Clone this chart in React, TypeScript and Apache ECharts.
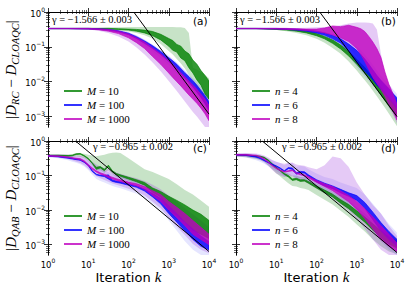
import React, { useEffect, useRef } from 'react';
import * as echarts from 'echarts';

// ---------- data (log10 values) ----------
const XT = [0, 0.5, 1, 1.25, 1.5, 1.75, 2, 2.2, 2.4, 2.6, 2.8, 3, 3.1, 3.2, 3.3, 3.4, 3.5, 3.6, 3.7, 3.8, 3.9, 4];
const XB = [0, 0.25, 0.5, 0.6, 0.7, 0.8, 0.9, 1.0, 1.1, 1.2, 1.3, 1.4, 1.5, 1.6, 1.7, 1.8, 2.0, 2.2, 2.4, 2.6, 2.8, 3.0, 3.2, 3.4, 3.6, 3.8, 4.0];

const X_MAJOR = [0, 1, 2, 3, 4];
const Y_MAJOR = [-3, -2, -1, 0];

const NAMES_TOP_LEFT = ['M=10', 'M=100', 'M=1000'];
const NAMES_TOP_RIGHT = ['n=4', 'n=6', 'n=8'];

const GAMMA_TOP = 'γ = −1.566 ± 0.003';
const GAMMA_BOTTOM = 'γ = −0.965 ± 0.002';
const PANEL_LABELS = ['(a)', '(b)', '(c)', '(d)'];

// panel (a)
const aGreenLo = [-0.48, -0.48, -0.48, -0.49, -0.49, -0.5, -0.52, -0.55, -0.6, -0.68, -0.8, -0.98, -1.1, -1.15, -1.32, -1.4, -1.6, -1.75, -1.95, -2.1, -2.35, -2.5];
const aGreenHi = [-0.47, -0.47, -0.47, -0.47, -0.47, -0.48, -0.49, -0.5, -0.52, -0.56, -0.64, -0.76, -0.82, -0.93, -0.98, -1.12, -1.2, -1.38, -1.5, -1.68, -1.82, -1.98];
const aGreenLightLo = [-0.49, -0.49, -0.5, -0.5, -0.51, -0.53, -0.56, -0.6, -0.67, -0.77, -0.92, -1.12, -1.22, -1.35, -1.48, -1.62, -1.8, -1.98, -2.2, -2.4, -2.65, -2.9];
const aGreenLightHi = [-0.46, -0.46, -0.45, -0.45, -0.44, -0.44, -0.43, -0.43, -0.43, -0.43, -0.43, -0.43, -0.43, -0.44, -0.44, -0.46, -0.6, -1.6, -1.65, -1.72, -1.8, -1.9];
const aBlueLo = [-0.48, -0.48, -0.49, -0.5, -0.52, -0.57, -0.65, -0.76, -0.9, -1.05, -1.22, -1.42, -1.53, -1.65, -1.77, -1.9, -2.02, -2.15, -2.3, -2.45, -2.63, -2.82];
const aBlueHi = [-0.47, -0.47, -0.47, -0.48, -0.5, -0.54, -0.61, -0.71, -0.83, -0.97, -1.13, -1.31, -1.4, -1.5, -1.62, -1.74, -1.85, -1.97, -2.1, -2.25, -2.4, -2.58];
const aBlueLightLo = [-0.49, -0.49, -0.5, -0.52, -0.55, -0.6, -0.7, -0.82, -0.97, -1.13, -1.32, -1.52, -1.64, -1.77, -1.9, -2.03, -2.16, -2.3, -2.44, -2.6, -2.77, -2.97];
const aBlueLightHi = [-0.46, -0.46, -0.46, -0.47, -0.48, -0.52, -0.58, -0.67, -0.79, -0.93, -1.08, -1.25, -1.34, -1.44, -1.55, -1.67, -1.78, -1.9, -2.01, -2.13, -2.27, -2.42];
const aMagLo = [-0.48, -0.48, -0.49, -0.51, -0.55, -0.62, -0.74, -0.88, -1.05, -1.28, -1.5, -1.75, -1.88, -2.0, -2.12, -2.25, -2.38, -2.5, -2.62, -2.76, -2.92, -3.12];
const aMagHi = [-0.47, -0.47, -0.47, -0.48, -0.5, -0.55, -0.63, -0.74, -0.86, -1.03, -1.2, -1.4, -1.5, -1.62, -1.74, -1.86, -1.98, -2.1, -2.22, -2.36, -2.5, -2.68];
const aMagLightLo = [-0.49, -0.49, -0.5, -0.54, -0.6, -0.7, -0.85, -1.02, -1.22, -1.45, -1.7, -1.98, -2.12, -2.27, -2.42, -2.57, -2.72, -2.87, -3.0, -3.15, -3.3, -3.3];
const aMagLightHi = [-0.46, -0.46, -0.46, -0.47, -0.48, -0.52, -0.58, -0.68, -0.8, -0.95, -1.12, -1.3, -1.4, -1.5, -1.62, -1.74, -1.86, -1.98, -2.1, -2.22, -2.36, -2.5];
const aFitX = [2.13, 4];
const aFitY = [0, -2.93];

// panel (b)
const bGreenLo = [-0.48, -0.48, -0.5, -0.52, -0.55, -0.6, -0.68, -0.77, -0.9, -1.06, -1.26, -1.5, -1.63, -1.76, -1.9, -2.06, -2.22, -2.38, -2.54, -2.7, -2.86, -3.02];
const bGreenHi = [-0.47, -0.47, -0.48, -0.49, -0.51, -0.55, -0.62, -0.7, -0.8, -0.95, -1.13, -1.36, -1.48, -1.6, -1.74, -1.88, -2.03, -2.18, -2.33, -2.48, -2.62, -2.78];
const bGreenLightLo = [-0.49, -0.49, -0.52, -0.55, -0.6, -0.67, -0.77, -0.88, -1.03, -1.2, -1.42, -1.68, -1.82, -1.96, -2.1, -2.26, -2.42, -2.58, -2.75, -2.92, -3.1, -3.28];
const bGreenLightHi = [-0.46, -0.46, -0.47, -0.48, -0.5, -0.54, -0.6, -0.68, -0.78, -0.92, -1.1, -1.32, -1.44, -1.56, -1.7, -1.84, -1.98, -2.13, -2.28, -2.43, -2.57, -2.72];
const bBlueLo = [-0.48, -0.48, -0.49, -0.5, -0.52, -0.55, -0.6, -0.67, -0.77, -0.9, -1.12, -1.45, -1.58, -1.7, -1.82, -1.95, -2.1, -2.22, -2.34, -2.48, -2.62, -2.78];
const bBlueHi = [-0.47, -0.47, -0.47, -0.48, -0.49, -0.51, -0.55, -0.6, -0.67, -0.77, -0.92, -1.1, -1.22, -1.35, -1.5, -1.66, -1.82, -1.96, -2.08, -2.2, -2.34, -2.46];
const bBlueLightLo = [-0.49, -0.49, -0.5, -0.52, -0.55, -0.6, -0.67, -0.76, -0.88, -1.03, -1.25, -1.58, -1.72, -1.85, -1.98, -2.12, -2.26, -2.4, -2.53, -2.67, -2.82, -2.98];
const bBlueLightHi = [-0.46, -0.46, -0.46, -0.47, -0.48, -0.5, -0.53, -0.57, -0.63, -0.72, -0.85, -1.0, -1.1, -1.22, -1.36, -1.52, -1.68, -1.83, -1.96, -2.08, -2.22, -2.35];
const bMagLo = [-0.48, -0.48, -0.49, -0.5, -0.51, -0.53, -0.56, -0.6, -0.66, -0.74, -0.85, -1.05, -1.22, -1.42, -1.65, -1.88, -2.05, -2.22, -2.42, -2.65, -2.85, -3.1];
const bMagHi = [-0.47, -0.47, -0.47, -0.47, -0.48, -0.49, -0.49, -0.46, -0.4, -0.42, -0.38, -0.44, -0.48, -0.56, -0.7, -0.86, -1.05, -1.3, -1.72, -2.08, -2.35, -2.65];
const bMagLightLo = [-0.49, -0.49, -0.5, -0.51, -0.53, -0.56, -0.6, -0.66, -0.74, -0.88, -1.05, -1.3, -1.45, -1.62, -1.8, -2.0, -2.18, -2.35, -2.55, -2.75, -2.95, -3.2];
const bMagLightHi = [-0.46, -0.46, -0.46, -0.46, -0.46, -0.45, -0.44, -0.43, -0.42, -0.38, -0.33, -0.3, -0.3, -0.3, -0.31, -0.33, -0.5, -1.2, -1.75, -2.05, -2.3, -2.55];
const bFitX = [2.08, 4];
const bFitY = [0, -3.0];

// panel (c)
const cGreenLo = [-0.43, -0.43, -0.44, -0.43, -0.39, -0.38, -0.44, -0.52, -0.65, -0.82, -0.78, -0.86, -0.74, -0.9, -0.98, -1.02, -1.1, -1.18, -1.28, -1.48, -1.62, -1.98, -2.15, -2.35, -2.58, -2.7, -2.82];
const cGreenHi = [-0.41, -0.41, -0.42, -0.41, -0.37, -0.36, -0.42, -0.5, -0.63, -0.76, -0.74, -0.82, -0.7, -0.86, -0.94, -0.98, -1.05, -1.12, -1.2, -1.36, -1.46, -1.6, -1.72, -1.85, -2.0, -2.12, -2.3];
const cGreenLightLo = [-0.45, -0.46, -0.47, -0.46, -0.45, -0.46, -0.5, -0.58, -0.7, -0.85, -0.85, -0.92, -0.85, -0.96, -1.04, -1.08, -1.16, -1.25, -1.36, -1.55, -1.72, -2.05, -2.25, -2.45, -2.68, -2.85, -3.0];
const cGreenLightHi = [-0.4, -0.39, -0.39, -0.38, -0.35, -0.36, -0.37, -0.4, -0.42, -0.44, -0.42, -0.4, -0.36, -0.34, -0.33, -0.35, -0.5, -0.66, -0.82, -0.9, -1.0, -1.1, -1.25, -1.42, -1.55, -1.72, -1.9];
const cBlueLo = [-0.44, -0.46, -0.5, -0.52, -0.54, -0.56, -0.62, -0.71, -0.88, -0.98, -1.01, -1.03, -1.1, -1.17, -1.2, -1.22, -1.28, -1.34, -1.45, -1.62, -1.82, -2.1, -2.35, -2.6, -2.85, -3.05, -3.15];
const cBlueHi = [-0.42, -0.44, -0.48, -0.5, -0.52, -0.54, -0.6, -0.69, -0.86, -0.96, -0.99, -1.0, -0.98, -1.13, -1.16, -1.18, -1.24, -1.3, -1.39, -1.52, -1.66, -1.88, -2.1, -2.35, -2.55, -2.75, -2.92];
const cBlueLightLo = [-0.47, -0.5, -0.56, -0.6, -0.63, -0.67, -0.74, -0.84, -0.98, -1.1, -1.16, -1.2, -1.25, -1.3, -1.34, -1.37, -1.45, -1.53, -1.65, -1.82, -2.02, -2.3, -2.6, -2.9, -3.15, -3.3, -3.3];
const cBlueLightHi = [-0.4, -0.4, -0.42, -0.44, -0.46, -0.48, -0.52, -0.58, -0.68, -0.76, -0.82, -0.86, -0.9, -0.96, -1.0, -1.03, -1.1, -1.17, -1.26, -1.38, -1.52, -1.7, -1.9, -2.1, -2.3, -2.5, -2.68];
const cMagLo = [-0.44, -0.45, -0.48, -0.5, -0.52, -0.54, -0.6, -0.72, -0.82, -0.9, -0.96, -1.0, -1.06, -1.1, -1.14, -1.17, -1.24, -1.3, -1.4, -1.58, -1.75, -2.0, -2.22, -2.45, -2.7, -2.85, -3.0];
const cMagHi = [-0.42, -0.43, -0.46, -0.48, -0.5, -0.51, -0.57, -0.68, -0.78, -0.86, -0.92, -0.96, -1.01, -1.05, -1.09, -1.12, -1.19, -1.24, -1.32, -1.44, -1.55, -1.75, -1.92, -2.1, -2.3, -2.5, -2.7];
const cMagLightLo = [-0.46, -0.48, -0.53, -0.56, -0.6, -0.64, -0.7, -0.8, -0.92, -1.02, -1.08, -1.13, -1.18, -1.23, -1.27, -1.3, -1.38, -1.46, -1.58, -1.76, -1.95, -2.22, -2.48, -2.72, -2.98, -3.15, -3.25];
const cMagLightHi = [-0.39, -0.39, -0.4, -0.41, -0.42, -0.43, -0.46, -0.52, -0.6, -0.68, -0.74, -0.78, -0.82, -0.87, -0.91, -0.95, -1.02, -1.08, -1.16, -1.27, -1.4, -1.58, -1.76, -1.95, -2.12, -2.3, -2.5];
const cFitX = [0.683, 4];
const cFitY = [0, -3.2];

// panel (d)
const dGreenLo = [-0.41, -0.42, -0.45, -0.46, -0.49, -0.57, -0.68, -0.78, -0.87, -0.97, -1.04, -1.14, -1.12, -1.17, -1.16, -1.22, -1.36, -1.5, -1.62, -1.8, -1.96, -2.16, -2.35, -2.58, -2.8, -2.98, -3.1];
const dGreenHi = [-0.39, -0.4, -0.43, -0.44, -0.47, -0.55, -0.66, -0.76, -0.85, -0.94, -1.0, -1.1, -1.08, -1.12, -1.12, -1.17, -1.3, -1.42, -1.54, -1.7, -1.84, -2.02, -2.2, -2.4, -2.6, -2.78, -2.9];
const dGreenLightLo = [-0.45, -0.47, -0.52, -0.55, -0.6, -0.7, -0.82, -0.93, -1.03, -1.13, -1.22, -1.3, -1.32, -1.36, -1.38, -1.42, -1.56, -1.7, -1.84, -2.02, -2.2, -2.42, -2.62, -2.85, -3.05, -3.2, -3.28];
const dGreenLightHi = [-0.37, -0.38, -0.41, -0.42, -0.45, -0.52, -0.62, -0.71, -0.8, -0.88, -0.94, -1.0, -1.0, -1.04, -1.05, -1.1, -1.22, -1.34, -1.46, -1.6, -1.74, -1.92, -2.1, -2.3, -2.5, -2.68, -2.82];
const dBlueLo = [-0.41, -0.42, -0.47, -0.51, -0.57, -0.63, -0.69, -0.74, -0.8, -0.88, -0.8, -0.82, -0.96, -0.92, -0.93, -1.02, -1.18, -1.3, -1.38, -1.5, -1.6, -1.72, -1.95, -2.28, -2.6, -2.85, -3.05];
const dBlueHi = [-0.39, -0.4, -0.45, -0.49, -0.55, -0.61, -0.67, -0.72, -0.78, -0.86, -0.77, -0.78, -0.92, -0.88, -0.89, -0.98, -1.12, -1.22, -1.3, -1.4, -1.5, -1.58, -1.78, -2.06, -2.36, -2.62, -2.85];
const dBlueLightLo = [-0.45, -0.48, -0.56, -0.6, -0.66, -0.73, -0.8, -0.87, -0.94, -1.02, -0.98, -1.0, -1.1, -1.08, -1.1, -1.18, -1.34, -1.48, -1.58, -1.72, -1.85, -2.0, -2.25, -2.6, -2.9, -3.15, -3.3];
const dBlueLightHi = [-0.36, -0.36, -0.38, -0.41, -0.46, -0.51, -0.56, -0.6, -0.64, -0.7, -0.64, -0.64, -0.75, -0.72, -0.74, -0.82, -0.94, -1.04, -1.1, -1.2, -1.28, -1.36, -1.55, -1.82, -2.1, -2.4, -2.65];
const dMagLo = [-0.41, -0.41, -0.43, -0.47, -0.53, -0.62, -0.72, -0.8, -0.86, -0.9, -0.88, -0.86, -0.94, -0.98, -1.01, -1.07, -1.2, -1.32, -1.44, -1.6, -1.76, -1.98, -2.25, -2.55, -2.85, -3.05, -3.2];
const dMagHi = [-0.39, -0.39, -0.41, -0.45, -0.51, -0.6, -0.7, -0.78, -0.84, -0.88, -0.86, -0.84, -0.92, -0.95, -0.98, -1.03, -1.14, -1.24, -1.32, -1.45, -1.58, -1.75, -1.96, -2.2, -2.45, -2.7, -2.95];
const dMagLightLo = [-0.45, -0.46, -0.5, -0.55, -0.62, -0.72, -0.84, -0.94, -1.0, -1.04, -1.04, -1.02, -1.1, -1.14, -1.17, -1.24, -1.38, -1.52, -1.66, -1.84, -2.02, -2.25, -2.55, -2.85, -3.15, -3.3, -3.3];
const dMagLightHi = [-0.36, -0.35, -0.36, -0.38, -0.42, -0.48, -0.55, -0.6, -0.64, -0.66, -0.64, -0.62, -0.68, -0.7, -0.72, -0.76, -0.82, -0.7, -0.45, -0.5, -0.75, -1.2, -1.55, -1.85, -2.1, -2.45, -2.75];
const dFitX = [0.652, 4];
const dFitY = [0, -3.23];

// ---------- styling ----------
const GREEN = '#008000';
const BLUE = '#0000ff';
const MAG = '#bf00bf';
const COLORS = [GREEN, BLUE, MAG];
const LIGHT_COLORS = [GREEN, BLUE, '#a040e0'];
const LIGHT_OPACITY = [0.22, 0.1, 0.28];
const DARK_OPACITY = 0.8;

const GRIDS = [
  { left: 48, top: 12, width: 161, height: 115 },
  { left: 236, top: 12, width: 161, height: 115 },
  { left: 48, top: 141, width: 161, height: 114 },
  { left: 236, top: 141, width: 161, height: 114 },
];

const PANELS = [
  { x: XT, names: NAMES_TOP_LEFT, fitX: aFitX, fitY: aFitY, dark: [[aGreenLo, aGreenHi], [aBlueLo, aBlueHi], [aMagLo, aMagHi]], light: [[aGreenLightLo, aGreenLightHi], [aBlueLightLo, aBlueLightHi], [aMagLightLo, aMagLightHi]] },
  { x: XT, names: NAMES_TOP_RIGHT, fitX: bFitX, fitY: bFitY, dark: [[bGreenLo, bGreenHi], [bBlueLo, bBlueHi], [bMagLo, bMagHi]], light: [[bGreenLightLo, bGreenLightHi], [bBlueLightLo, bBlueLightHi], [bMagLightLo, bMagLightHi]] },
  { x: XB, names: NAMES_TOP_LEFT, fitX: cFitX, fitY: cFitY, dark: [[cGreenLo, cGreenHi], [cBlueLo, cBlueHi], [cMagLo, cMagHi]], light: [[cGreenLightLo, cGreenLightHi], [cBlueLightLo, cBlueLightHi], [cMagLightLo, cMagLightHi]] },
  { x: XB, names: NAMES_TOP_RIGHT, fitX: dFitX, fitY: dFitY, dark: [[dGreenLo, dGreenHi], [dBlueLo, dBlueHi], [dMagLo, dMagHi]], light: [[dGreenLightLo, dGreenLightHi], [dBlueLightLo, dBlueLightHi], [dMagLightLo, dMagLightHi]] },
];

const minorTicks = (from: number, to: number, lo: number, hi: number) => {
  const out: number[] = [];
  for (let n = from; n <= to; n++) {
    for (let m = 2; m <= 9; m++) {
      const v = n + Math.log10(m);
      if (v > lo && v < hi) out.push(v);
    }
  }
  return out;
};
const X_MINOR = minorTicks(0, 3, 0, 4);
const Y_MINOR = minorTicks(-4, -1, -3.3, 0);

const powLabel = (v: number) => {
  const e = Math.round(v);
  const s = e < 0 ? '−' + -e : String(e);
  return `{b|10}{p|${s}}`;
};
const tickRich = {
  b: { fontSize: 8.5, fontFamily: 'DejaVu Sans', color: '#000', lineHeight: 12, verticalAlign: 'bottom' },
  p: { fontSize: 6, fontFamily: 'DejaVu Sans', color: '#000', lineHeight: 7, verticalAlign: 'top' },
};

const legendFormatter = (name: string) => {
  const [v, n] = name.split('=');
  return `{i|${v}}{t| = ${n}}`;
};

function buildOption() {
  const xAxis: any[] = [];
  const yAxis: any[] = [];
  const series: any[] = [];
  const legend: any[] = [];

  GRIDS.forEach((_, gi) => {
    const showX = gi >= 2;
    const showY = gi % 2 === 0;
    const bx = { type: 'value', gridIndex: gi, min: 0, max: 4, splitLine: { show: false } };
    const by = { type: 'value', gridIndex: gi, min: -3.3, max: 0, splitLine: { show: false } };
    const line = { show: true, lineStyle: { color: '#000', width: 1 } };
    const major = (vals: number[]) => ({ show: true, inside: true, length: 4, customValues: vals, lineStyle: { color: '#000', width: 0.8 } });
    const minor = (vals: number[]) => ({ show: true, inside: true, length: 2, customValues: vals, lineStyle: { color: '#000', width: 0.6 } });
    xAxis.push({
      ...bx, position: 'bottom', axisLine: line, axisTick: major(X_MAJOR),
      axisLabel: { show: showX, customValues: X_MAJOR, formatter: powLabel, margin: 2, rich: tickRich },
      name: showX ? '{t|Iteration }{k|k}' : '', nameLocation: 'middle', nameGap: 11,
      nameTextStyle: { rich: { t: { fontFamily: 'DejaVu Sans', fontSize: 13, color: '#000' }, k: { fontFamily: 'Liberation Serif', fontStyle: 'italic', fontSize: 15, color: '#000' } } },
    });
    xAxis.push({ ...bx, position: 'bottom', axisLine: { show: false }, axisTick: minor(X_MINOR), axisLabel: { show: false } });
    xAxis.push({ ...bx, position: 'top', axisLine: line, axisTick: major(X_MAJOR), axisLabel: { show: false } });
    xAxis.push({ ...bx, position: 'top', axisLine: { show: false }, axisTick: minor(X_MINOR), axisLabel: { show: false } });

    const yname = gi === 0
      ? '{u||}{d|D}{s|RC}{u| − }{d|D}{s|CLOAQC}{u||}'
      : gi === 2 ? '{u||}{d|D}{s|QAB}{u| − }{d|D}{s|CLOAQC}{u||}' : '';
    yAxis.push({
      ...by, position: 'left', axisLine: line, axisTick: major(Y_MAJOR),
      axisLabel: { show: showY, customValues: Y_MAJOR, formatter: powLabel, margin: 3, rich: tickRich },
      name: yname, nameLocation: 'middle', nameGap: 26, nameRotate: 90,
      nameTextStyle: {
        rich: {
          u: { fontFamily: 'Liberation Serif', fontSize: 15, color: '#000', lineHeight: 20 },
          d: { fontFamily: 'Liberation Serif', fontStyle: 'italic', fontSize: 15, color: '#000', lineHeight: 20 },
          s: { fontFamily: 'Liberation Serif', fontStyle: 'italic', fontSize: 10.5, color: '#000', lineHeight: 10, verticalAlign: 'bottom' },
        },
      },
    });
    yAxis.push({ ...by, position: 'left', axisLine: { show: false }, axisTick: minor(Y_MINOR), axisLabel: { show: false } });
    yAxis.push({ ...by, position: 'right', axisLine: line, axisTick: major(Y_MAJOR), axisLabel: { show: false } });
    yAxis.push({ ...by, position: 'right', axisLine: { show: false }, axisTick: minor(Y_MINOR), axisLabel: { show: false } });

    const p = PANELS[gi];
    const band = (lo: number[], hi: number[], color: string, opacity: number, stroke: boolean, name?: string) => ({
      type: 'custom', name, xAxisIndex: gi * 4, yAxisIndex: gi * 4, silent: true, clip: true,
      itemStyle: { color },
      data: p.x.map((x, i) => [x, lo[i], hi[i]]),
      encode: { x: 0, y: [1, 2] },
      renderItem: (params: any, api: any) => {
        if (params.dataIndex !== 0) return null;
        const pts: number[][] = [];
        for (let i = 0; i < p.x.length; i++) pts.push(api.coord([p.x[i], hi[i]]));
        for (let i = p.x.length - 1; i >= 0; i--) pts.push(api.coord([p.x[i], lo[i]]));
        return {
          type: 'polygon', shape: { points: pts },
          style: { fill: color, stroke: stroke ? color : 'none', lineWidth: stroke ? 0.8 : 0, opacity },
        };
      },
    });
    p.light.forEach(([lo, hi], k) => series.push(band(lo, hi, LIGHT_COLORS[k], LIGHT_OPACITY[k], false)));
    p.dark.forEach(([lo, hi], k) => series.push(band(lo, hi, COLORS[k], DARK_OPACITY, true, p.names[k])));
    series.push({
      type: 'line', xAxisIndex: gi * 4, yAxisIndex: gi * 4, silent: true, clip: true, symbol: 'none',
      lineStyle: { color: '#000', width: 1 },
      data: p.fitX.map((x, i) => [x, p.fitY[i]]),
    });

    const g = GRIDS[gi];
    legend.push({
      orient: 'vertical', left: g.left + 11, top: gi < 2 ? 80 : 205,
      itemWidth: 18, itemHeight: 2, itemGap: 2, selectedMode: false,
      formatter: legendFormatter,
      data: p.names.map((n, k) => ({ name: n, icon: 'rect', itemStyle: { color: COLORS[k], opacity: 0.8 } })),
      textStyle: {
        lineHeight: 12,
        rich: {
          i: { fontFamily: 'Liberation Serif', fontStyle: 'italic', fontSize: 11, color: '#000', lineHeight: 12 },
          t: { fontFamily: 'Liberation Serif', fontSize: 11, color: '#000', lineHeight: 12 },
        },
      },
    });
  });

  const graphic: any[] = [];
  GRIDS.forEach((g, gi) => {
    graphic.push({
      type: 'text', left: g.left + g.width - 16, top: g.top + (gi < 2 ? 3 : 1),
      style: { text: PANEL_LABELS[gi], font: '10.5px "DejaVu Sans"', fill: '#000' },
    });
  });
  const gf = '10.5px "Liberation Serif"';
  graphic.push({ type: 'text', left: 52, top: 14, style: { text: GAMMA_TOP, font: gf, fill: '#000' } });
  graphic.push({ type: 'text', left: 240, top: 14, style: { text: GAMMA_TOP, font: gf, fill: '#000' } });
  graphic.push({ type: 'text', left: 93, top: 141, style: { text: GAMMA_BOTTOM, font: gf, fill: '#000' } });
  graphic.push({ type: 'text', left: 282, top: 141, style: { text: GAMMA_BOTTOM, font: gf, fill: '#000' } });

  return {
    animation: false,
    backgroundColor: '#fff',
    grid: GRIDS.map((g) => ({ ...g, containLabel: false })),
    xAxis, yAxis, series, legend, graphic,
  };
}

export default function App() {
  const ref = useRef<HTMLDivElement>(null);
  useEffect(() => {
    if (!ref.current) return;
    const chart = echarts.init(ref.current, undefined, { renderer: 'svg' });
    chart.setOption(buildOption() as any);
    return () => chart.dispose();
  }, []);
  return <div ref={ref} style={{ position: 'fixed', left: 0, top: 0, width: 415, height: 291 }} />;
}
